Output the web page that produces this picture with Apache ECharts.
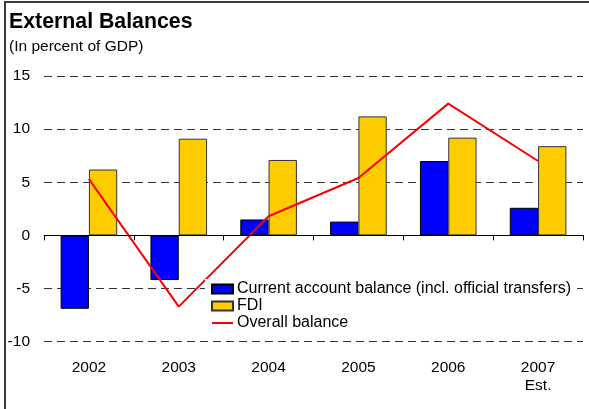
<!DOCTYPE html>
<html>
<head>
<meta charset="utf-8">
<script src="https://cdn.jsdelivr.net/npm/echarts@6/dist/echarts.min.js"></script>
<style>
  html, body { margin: 0; padding: 0; background: #fff; }
  #chart { width: 589px; height: 409px; }
</style>
</head>
<body>
<div id="chart"></div>
<script>
// Years shown on the category axis
const years = ['2002', '2003', '2004', '2005', '2006', '2007\nEst.'];
// Series values, percent of GDP
const currentAccount = [-6.9, -4.2, 1.5, 1.3, 7.0, 2.6];
const fdi = [6.2, 9.1, 7.1, 11.2, 9.2, 8.4];
const overallBalance = [5.3, -6.7, 1.8, 5.4, 12.4, 7.0];
// Value axis range
const yMin = -10, yMax = 15, yStep = 5;

const FONT = '"Liberation Sans", Arial, sans-serif';
const chart = echarts.init(document.getElementById('chart'), null, { renderer: 'canvas' });

chart.setOption({
  backgroundColor: '#ffffff',
  animation: false,
  textStyle: { fontFamily: FONT, color: '#000' },
  graphic: [{
    type: 'rect',
    shape: { x: 5, y: 2, width: 700, height: 600 },
    style: { fill: 'none', stroke: '#3a3a3a', lineWidth: 2 },
    silent: true
  }],
  title: [
    { text: 'External Balances', left: 9, top: 12, padding: 0,
      textStyle: { fontFamily: FONT, fontSize: 21.3, fontWeight: 'bold', color: '#000' } },
    { text: '(In percent of GDP)', left: 9, top: 39, padding: 0,
      textStyle: { fontFamily: FONT, fontSize: 15.5, fontWeight: 'normal', color: '#000' } }
  ],
  legend: {
    orient: 'vertical',
    left: 205,
    top: 279,
    padding: [2, 6, 4, 6],
    backgroundColor: '#ffffff',
    itemGap: 1,
    itemWidth: 21,
    itemHeight: 9,
    textStyle: { fontFamily: FONT, fontSize: 16, color: '#000', padding: [0, 0, 0, -1], lineHeight: 16 },
    data: [
      { name: 'Current account balance (incl. official transfers)', icon: 'rect' },
      { name: 'FDI', icon: 'rect' },
      {
        name: 'Overall balance',
        itemStyle: { color: 'rgba(0,0,0,0)', borderWidth: 0 },
        lineStyle: { color: '#ff0000', width: 2 }
      }
    ]
  },
  grid: { left: 44, right: 6, top: 76, bottom: 67.3, containLabel: false },
  xAxis: [
    {
      type: 'category',
      data: years,
      boundaryGap: true,
      axisLine: { show: true, onZero: true, lineStyle: { color: '#000', width: 1 } },
      axisTick: { show: true, length: 5, lineStyle: { color: '#000', width: 1 } },
      axisLabel: { show: false },
      splitLine: { show: false },
      z: 5
    },
    {
      type: 'category',
      data: years,
      position: 'bottom',
      boundaryGap: true,
      axisLine: { show: false, onZero: false },
      axisTick: { show: false },
      axisLabel: { show: true, margin: 17, fontFamily: FONT, fontSize: 15.5, color: '#000', lineHeight: 18 },
      splitLine: { show: false }
    }
  ],
  yAxis: {
    type: 'value',
    min: yMin, max: yMax, interval: yStep,
    axisLine: { show: false },
    axisTick: { show: false },
    axisLabel: { margin: 14, fontFamily: FONT, fontSize: 15.5, color: '#000' },
    splitLine: { show: true, lineStyle: { color: '#333', width: 1, type: [8, 5] } }
  },
  series: [
    {
      name: 'Current account balance (incl. official transfers)',
      type: 'bar',
      xAxisIndex: 0,
      data: currentAccount,
      barGap: '0%',
      barCategoryGap: '37%',
      itemStyle: { color: '#0000ff', borderColor: '#000', borderWidth: 1 },
      z: 2
    },
    {
      name: 'FDI',
      type: 'bar',
      xAxisIndex: 0,
      data: fdi,
      barGap: '0%',
      barCategoryGap: '37%',
      itemStyle: { color: '#ffcc00', borderColor: '#333', borderWidth: 1 },
      z: 2
    },
    {
      name: 'Overall balance',
      type: 'line',
      xAxisIndex: 0,
      data: overallBalance,
      symbol: 'none',
      lineStyle: { color: '#ff0000', width: 2 },
      itemStyle: { color: '#ff0000' },
      z: 3
    }
  ]
});
</script>
</body>
</html>
